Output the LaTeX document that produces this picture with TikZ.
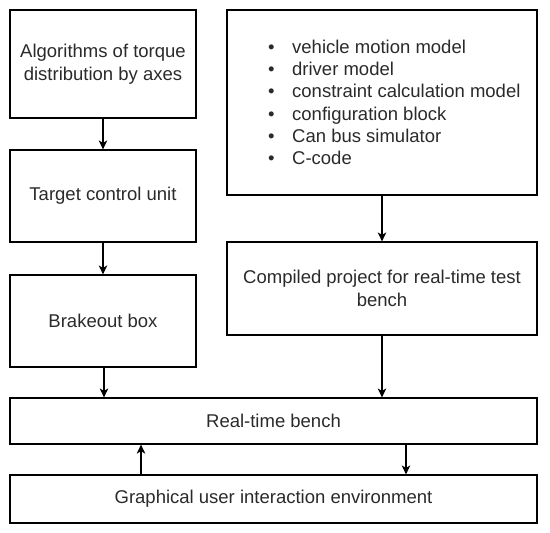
\documentclass[tikz,border=0pt]{standalone}
\usepackage{fontspec}
\setmainfont{Liberation Sans}
\usetikzlibrary{arrows.meta,calc}
\definecolor{txt}{HTML}{2a2a2a}
\begin{document}
\begin{tikzpicture}[x=1pt,y=-1pt,
  box/.style={draw=black,line width=1.2pt,inner sep=0pt,align=center,text=txt,
    font=\fontsize{18.5}{23}\selectfont},
  arr/.style={line width=1.2pt,-{Stealth[length=9pt,width=8.5pt,inset=2.5pt]}}]
\useasboundingbox (0,0) rectangle (550,533);
\node[box,minimum width=186pt,minimum height=108pt] (A) at (103,64) {Algorithms of torque\\distribution by axes};
\node[box,minimum width=186pt,minimum height=92pt] (B) at (103,196) {Target control unit};
\node[box,minimum width=186pt,minimum height=92pt] (C) at (103,321) {Brakeout box};
\node[box,minimum width=310pt,minimum height=185pt] (D) at (382,102.5) {};
\node[anchor=west,inner sep=0pt,align=left,text=txt,font=\fontsize{18.5}{22.3}\selectfont] (L) at (268,102.5)
  {\makebox[24pt][l]{•}vehicle motion model\\
   \makebox[24pt][l]{•}driver model\\
   \makebox[24pt][l]{•}constraint calculation model\\
   \makebox[24pt][l]{•}configuration block\\
   \makebox[24pt][l]{•}Can bus simulator\\
   \makebox[24pt][l]{•}C-code};
\node[box,minimum width=310pt,minimum height=93pt] (E) at (382,288.5) {Compiled project for real-time test\\bench};
\node[box,minimum width=527pt,minimum height=46pt] (F) at (273.5,421) {Real-time bench};
\node[box,minimum width=527pt,minimum height=48pt] (G) at (273.5,499) {Graphical user interaction environment};
\coordinate (cx) at (104,0);
\coordinate (ux) at (141,0);
\coordinate (dx) at (406,0);
\draw[arr] (A.south) -- (B.north);
\draw[arr] (B.south) -- (C.south |- C.north);
\draw[arr] (C.south -| cx) -- (F.north -| cx);
\draw[arr] (D.south) -- (E.north);
\draw[arr] (E.south) -- (E.south |- F.north);
\draw[arr] (G.north -| ux) -- (F.south -| ux);
\draw[arr] (F.south -| dx) -- (G.north -| dx);
\end{tikzpicture}
\end{document}
